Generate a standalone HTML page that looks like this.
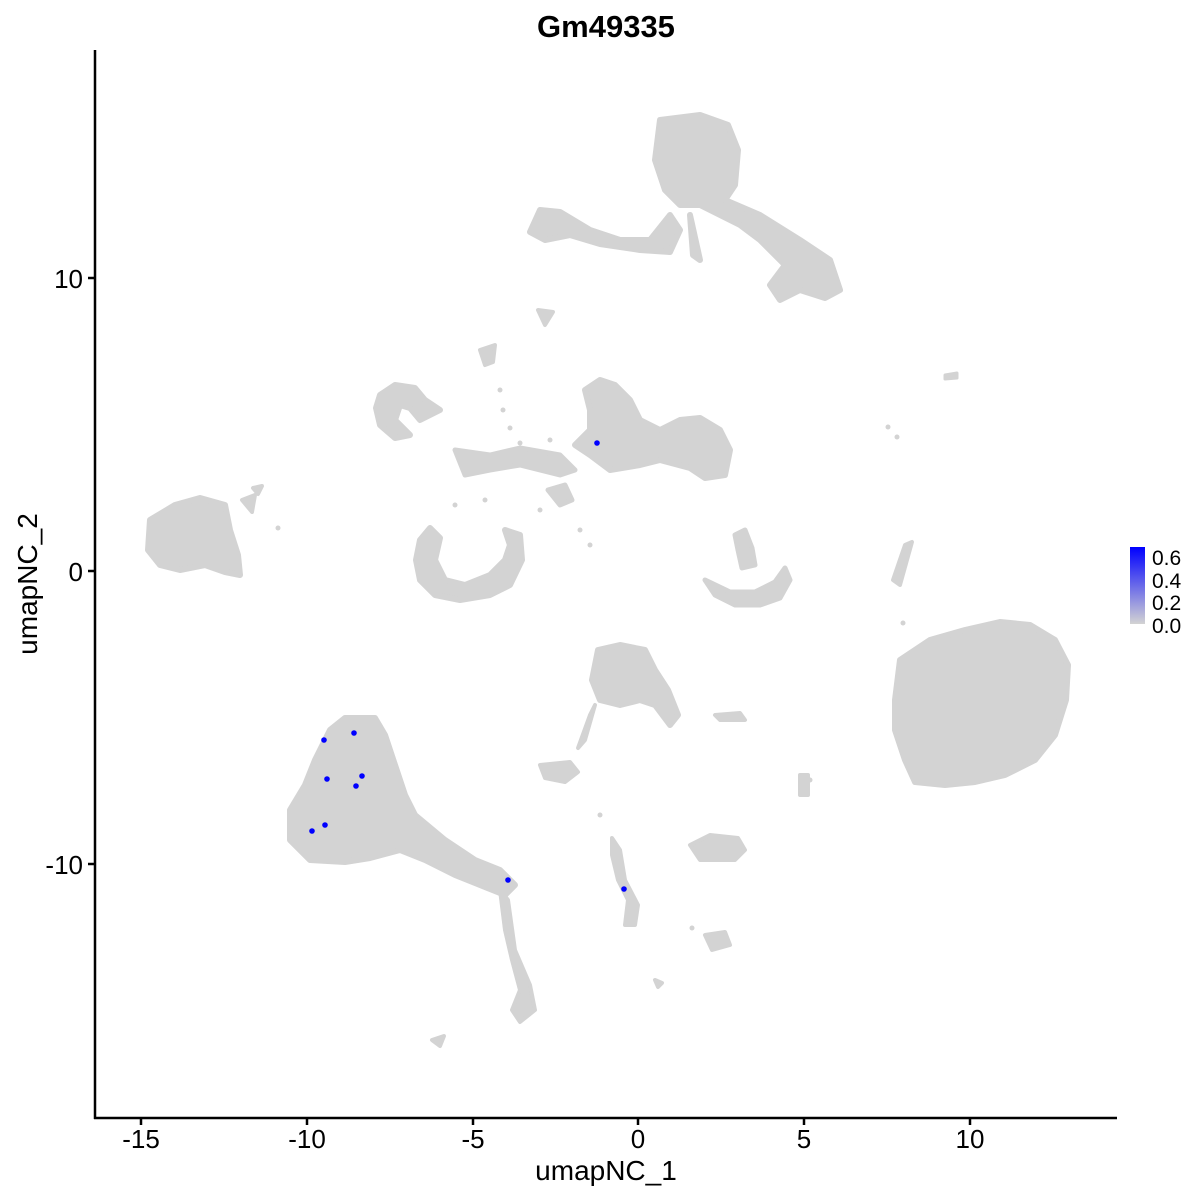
<!DOCTYPE html>
<html><head><style>
body{margin:0;background:#fff;}
svg{display:block;font-family:"Liberation Sans",sans-serif;}
</style></head><body>
<svg width="1200" height="1200" viewBox="0 0 1200 1200">
<rect width="1200" height="1200" fill="#fff"/>
<text x="606" y="37" font-size="31" font-weight="bold" text-anchor="middle">Gm49335</text>
<g fill="#D3D3D3" stroke="#D3D3D3" stroke-linejoin="round">
<path stroke-width="6" d="M660,120 L700,115 L728,125 L738,150 L735,185 L725,200 L760,215 L800,240 L830,260 L840,290 L825,298 L800,290 L780,300 L770,285 L785,265 L760,240 L740,225 L720,215 L700,205 L680,205 L665,190 L655,160 Z"/>
<path stroke-width="6" d="M540,210 L560,212 L590,230 L620,240 L650,240 L670,215 L680,230 L670,252 L640,250 L600,244 L570,235 L545,240 L530,232 Z"/>
<path stroke-width="6" d="M690,215 L700,260 L693,255 Z"/>
<path stroke-width="4" d="M538,310 L553,312 L545,325 Z"/>
<path stroke-width="6" d="M150,520 L175,505 L200,498 L225,505 L230,530 L238,555 L240,575 L225,572 L205,565 L180,570 L160,565 L148,550 Z"/>
<path stroke-width="4" d="M242,500 L255,495 L252,512 Z"/>
<path stroke-width="4" d="M253,488 L262,486 L258,494 Z"/>
<path stroke-width="6" d="M380,395 L395,385 L415,388 L425,400 L440,410 L420,420 L410,408 L400,405 L395,420 L410,435 L395,438 L380,425 L376,408 Z"/>
<path stroke-width="4" d="M480,350 L495,345 L493,362 L485,365 Z"/>
<path stroke-width="6" d="M585,390 L600,380 L615,385 L630,400 L640,420 L660,430 L680,420 L700,418 L720,430 L730,450 L725,475 L705,478 L690,468 L660,460 L640,465 L610,470 L590,455 L575,445 L590,430 L590,410 Z"/>
<path stroke-width="5" d="M455,450 L490,455 L520,448 L560,455 L575,470 L560,475 L520,465 L490,470 L465,475 Z"/>
<path stroke-width="5" d="M548,490 L565,485 L572,500 L560,505 Z"/>
<path stroke-width="6" d="M420,540 L430,528 L440,538 L435,560 L445,580 L465,585 L490,575 L505,560 L510,545 L505,530 L520,535 L522,560 L510,585 L490,595 L460,600 L435,595 L420,580 L416,560 Z"/>
<path stroke-width="5" d="M705,580 L730,592 L755,592 L775,582 L785,568 L790,580 L780,598 L760,605 L735,605 L715,595 Z"/>
<path stroke-width="5" d="M735,535 L745,530 L752,548 L755,565 L742,568 L738,550 Z"/>
<path stroke-width="6" d="M900,660 L930,640 L965,630 L1000,622 L1030,625 L1055,640 L1068,665 L1066,700 L1055,735 L1035,760 L1005,775 L975,782 L945,785 L915,782 L905,760 L895,730 L895,700 Z"/>
<path stroke-width="4" d="M905,545 L912,542 L900,585 L893,580 Z"/>
<path stroke-width="6" d="M330,730 L345,718 L375,718 L385,735 L395,765 L405,795 L415,815 L445,840 L475,860 L500,870 L515,885 L505,895 L480,885 L455,875 L425,860 L400,850 L370,858 L345,862 L310,860 L290,840 L290,810 L305,785 L315,760 Z"/>
<path stroke-width="4" d="M500,890 L508,900 L515,950 L530,985 L535,1010 L520,1022 L512,1010 L520,990 L512,960 L505,930 Z"/>
<path stroke-width="6" d="M598,650 L620,645 L645,650 L655,670 L668,690 L678,715 L670,725 L655,705 L640,700 L620,705 L600,700 L592,680 Z"/>
<path stroke-width="4" d="M595,705 L585,740 L578,748 L590,715 Z"/>
<path stroke-width="4" d="M540,765 L570,762 L578,772 L565,782 L545,778 Z"/>
<path stroke-width="4" d="M715,715 L740,713 L745,720 L720,720 Z"/>
<path stroke-width="4" d="M690,845 L710,835 L738,838 L745,850 L735,860 L700,860 Z"/>
<path stroke-width="4" d="M705,935 L725,932 L730,945 L712,950 Z"/>
<path stroke-width="4" d="M612,838 L620,850 L625,880 L638,905 L635,925 L625,925 L628,900 L618,880 L612,855 Z"/>
<path stroke-width="4" d="M800,775 L808,775 L808,795 L800,795 Z"/>
<path stroke-width="4" d="M432,1040 L444,1036 L440,1046 Z"/>
<path stroke-width="4" d="M655,980 L662,983 L658,987 Z"/>
<path stroke-width="3" d="M945,375 L957,373 L957,378 L945,379 Z"/>
</g>
<g fill="#D3D3D3">
<circle cx="278" cy="528" r="2.5"/><circle cx="888" cy="427" r="2.5"/><circle cx="897" cy="437" r="2.5"/>
<circle cx="500" cy="390" r="2.5"/><circle cx="503" cy="410" r="2.5"/><circle cx="510" cy="428" r="2.5"/>
<circle cx="520" cy="443" r="2.5"/><circle cx="550" cy="440" r="2.5"/><circle cx="455" cy="505" r="2.5"/>
<circle cx="485" cy="500" r="2.5"/><circle cx="540" cy="510" r="2.5"/><circle cx="580" cy="530" r="2.5"/>
<circle cx="590" cy="545" r="2.5"/><circle cx="903" cy="623" r="2.5"/><circle cx="692" cy="928" r="2.5"/>
<circle cx="810" cy="780" r="2.5"/><circle cx="600" cy="815" r="2.5"/>
</g>
<g fill="#0000FF">
<circle cx="597" cy="443" r="2.8"/><circle cx="324" cy="740" r="2.8"/><circle cx="354" cy="733" r="2.8"/>
<circle cx="327" cy="779" r="2.8"/><circle cx="362" cy="776" r="2.8"/><circle cx="356" cy="786" r="2.8"/>
<circle cx="325" cy="825" r="2.8"/><circle cx="312" cy="831" r="2.8"/><circle cx="508" cy="880" r="2.8"/>
<circle cx="624" cy="889" r="2.8"/>
</g>
<g stroke="#000" stroke-width="2.5">
<line x1="95" y1="50" x2="95" y2="1119"/>
<line x1="94" y1="1118" x2="1117" y2="1118"/>
<line x1="141" y1="1118" x2="141" y2="1125"/><line x1="307" y1="1118" x2="307" y2="1125"/>
<line x1="473" y1="1118" x2="473" y2="1125"/><line x1="638" y1="1118" x2="638" y2="1125"/>
<line x1="804" y1="1118" x2="804" y2="1125"/><line x1="970" y1="1118" x2="970" y2="1125"/>
<line x1="88" y1="278" x2="95" y2="278"/><line x1="88" y1="571" x2="95" y2="571"/><line x1="88" y1="864" x2="95" y2="864"/>
</g>
<g font-size="26" fill="#000">
<g text-anchor="middle">
<text x="141" y="1148">-15</text><text x="307" y="1148">-10</text><text x="473" y="1148">-5</text>
<text x="638" y="1148">0</text><text x="804" y="1148">5</text><text x="970" y="1148">10</text>
</g>
<g text-anchor="end">
<text x="83" y="288">10</text><text x="83" y="581">0</text><text x="83" y="874">-10</text>
</g>
<text x="606" y="1180" text-anchor="middle" font-size="28">umapNC_1</text>
<text transform="translate(37,584) rotate(-90)" text-anchor="middle" font-size="28">umapNC_2</text>
</g>
<defs><linearGradient id="g" x1="0" y1="1" x2="0" y2="0">
<stop offset="0" stop-color="#D3D3D3"/><stop offset="1" stop-color="#0000FF"/></linearGradient></defs>
<rect x="1130" y="547" width="15" height="77" fill="url(#g)"/>
<g font-size="21" fill="#000">
<text x="1152" y="565">0.6</text><text x="1152" y="588">0.4</text>
<text x="1152" y="610">0.2</text><text x="1152" y="633">0.0</text>
</g>
</svg>
</body></html>
